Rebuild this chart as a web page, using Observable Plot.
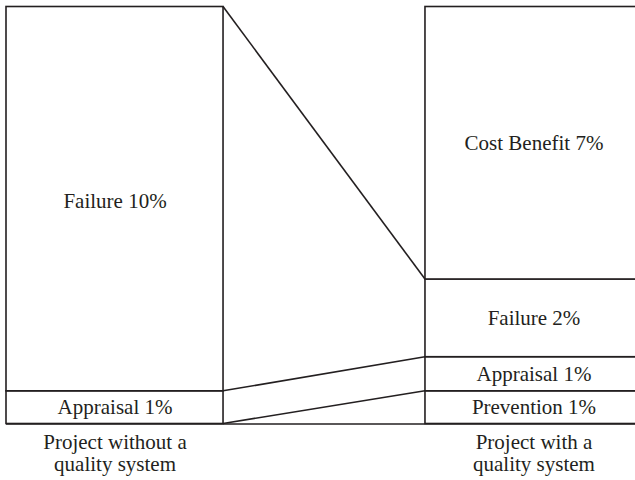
<!DOCTYPE html>
<html>
<head>
<meta charset="utf-8">
<script src="https://cdn.jsdelivr.net/npm/d3@7"></script>
<script src="https://cdn.jsdelivr.net/npm/@observablehq/plot@0.6"></script>
<style>
  html, body { margin: 0; padding: 0; background: #fff; }
  #chart { width: 635px; height: 480px; overflow: hidden; }
</style>
</head>
<body>
<div id="chart"></div>
<script>
// ---- data ----
const projects = ["Project without a quality system", "Project with a quality system"];
const projectLabels = ["Project without a\nquality system", "Project with a\nquality system"];
const withoutCategories = ["Appraisal", "Failure"];
const withoutValues = [1, 10];
const withCategories = ["Prevention", "Appraisal", "Failure", "Cost Benefit"];
const withValues = [1, 1, 2, 7];

// ---- table built from the arrays ----
const rows = [
  ...withoutCategories.map((c, i) => ({project: projects[0], category: c, value: withoutValues[i]})),
  ...withCategories.map((c, i) => ({project: projects[1], category: c, value: withValues[i]}))
];
rows.forEach(d => d.label = `${d.category} ${d.value}%`);

// cumulative stack bounds per project
function bounds(cats, vals) {
  const out = {}; let s = 0;
  cats.forEach((c, i) => { out[c] = [s, s + vals[i]]; s += vals[i]; });
  return out;
}
const bLeft = bounds(withoutCategories, withoutValues);
const bRight = bounds(withCategories, withValues);
// links join the edges of categories present in both projects
const linkSet = new Map();
withoutCategories.filter(c => c in bRight).forEach(c => {
  [0, 1].forEach(k => {
    const key = bLeft[c][k] + "-" + bRight[c][k];
    linkSet.set(key, [bLeft[c][k], bRight[c][k]]);
  });
});
const links = [...linkSet.values()];

// piecewise y domain: the stack boundaries of the right-hand bar
const yDomain = [0, ...d3.cumsum(withValues)];

const ink = "#231f20";

const chart = Plot.plot({
  width: 635,
  height: 480,
  marginTop: 6,
  marginLeft: 6,
  marginRight: 0,
  marginBottom: 56,
  style: {fontFamily: "'Liberation Serif', 'Times New Roman', serif", fontSize: "21px", background: "#fff", color: ink},
  x: {type: "band", domain: projects, range: [6, 642], paddingInner: 0.482, paddingOuter: 0, round: false, axis: null},
  y: {type: "linear", domain: yDomain, range: [423.5, 390.8, 356.7, 279, 6.5], axis: null},
  marks: [
    Plot.ruleY([0], {stroke: ink, strokeWidth: 1.6}),
    Plot.barY(rows, {x: "project", y: "value", fill: "#fff", stroke: ink, strokeWidth: 1.6, insetLeft: 0, insetRight: 0}),
    (index, scales) => {
      const {x, y} = scales;
      const xL = x(projects[0]) + x.bandwidth();
      const xR = x(projects[1]);
      const g = d3.create("svg:g");
      g.selectAll("line").data(links).join("line")
        .attr("x1", xL).attr("x2", xR)
        .attr("y1", d => y(d[0])).attr("y2", d => y(d[1]))
        .attr("stroke", ink).attr("stroke-width", 1.6);
      return g.node();
    },
    Plot.text(rows, Plot.stackY({x: "project", y: "value", text: "label", fill: ink, fontSize: 21})),
    Plot.text(projects, {x: d => d, text: (d, i) => projectLabels[i], frameAnchor: "bottom", lineAnchor: "top", dy: 9, lineHeight: 1.05, fill: ink, fontSize: 21})
  ]
});
document.getElementById("chart").appendChild(chart);
</script>
</body>
</html>
